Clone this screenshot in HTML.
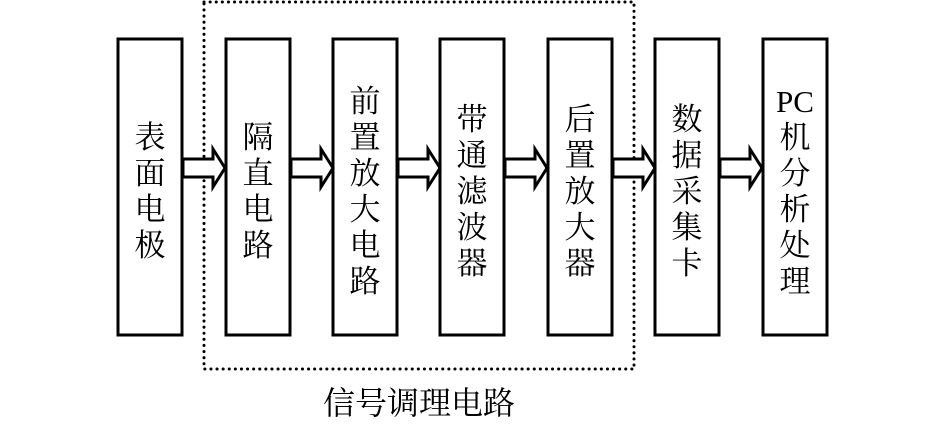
<!DOCTYPE html>
<html><head><meta charset="utf-8"><style>
body{margin:0;background:#fff;}
svg{display:block}
text{font-family:"Liberation Serif","Noto Serif CJK SC","Noto Sans CJK SC",serif;fill:#000}
</style></head><body>
<svg width="945" height="425" viewBox="0 0 945 425" xmlns="http://www.w3.org/2000/svg">
<rect x="204" y="2" width="430" height="367" fill="none" stroke="#000" stroke-width="3" stroke-dasharray="0.1 6" stroke-linecap="round"/>
<g fill="none" stroke="#000" stroke-width="3">
<rect x="118" y="39" width="64" height="296"/>
<rect x="226" y="39" width="64" height="296"/>
<rect x="333" y="39" width="64" height="296"/>
<rect x="440" y="39" width="64" height="296"/>
<rect x="548" y="39" width="64" height="296"/>
<rect x="655" y="39" width="64" height="296"/>
<rect x="763" y="39" width="64" height="296"/>
</g>
<g fill="#fff" stroke="#000" stroke-width="3" stroke-linejoin="miter">
<path d="M183 159 H213 V149 L225 168 L213 187 V177 H183 Z"/>
<path d="M291 159 H321 V149 L333 168 L321 187 V177 H291 Z"/>
<path d="M398 159 H428 V149 L440 168 L428 187 V177 H398 Z"/>
<path d="M505 159 H535 V149 L547 168 L535 187 V177 H505 Z"/>
<path d="M613 159 H643 V149 L655 168 L643 187 V177 H613 Z"/>
<path d="M720 159 H750 V149 L762 168 L750 187 V177 H720 Z"/>
</g>
<g font-size="31" text-anchor="middle">
<text x="150" y="148">表</text><text x="150" y="184">面</text><text x="150" y="220">电</text><text x="150" y="256">极</text>
<text x="258" y="148">隔</text><text x="258" y="184">直</text><text x="258" y="220">电</text><text x="258" y="256">路</text>
<text x="365" y="112">前</text><text x="365" y="148">置</text><text x="365" y="184">放</text><text x="365" y="220">大</text><text x="365" y="256">电</text><text x="365" y="292">路</text>
<text x="472" y="130">带</text><text x="472" y="166">通</text><text x="472" y="202">滤</text><text x="472" y="238">波</text><text x="472" y="274">器</text>
<text x="580" y="130">后</text><text x="580" y="166">置</text><text x="580" y="202">放</text><text x="580" y="238">大</text><text x="580" y="274">器</text>
<text x="687" y="130">数</text><text x="687" y="166">据</text><text x="687" y="202">采</text><text x="687" y="238">集</text><text x="687" y="274">卡</text>
<text x="795" y="112">PC</text><text x="795" y="148">机</text><text x="795" y="184">分</text><text x="795" y="220">析</text><text x="795" y="256">处</text><text x="795" y="292">理</text>
<text x="419" y="414" font-size="32">信号调理电路</text>
</g>
</svg>
</body></html>
